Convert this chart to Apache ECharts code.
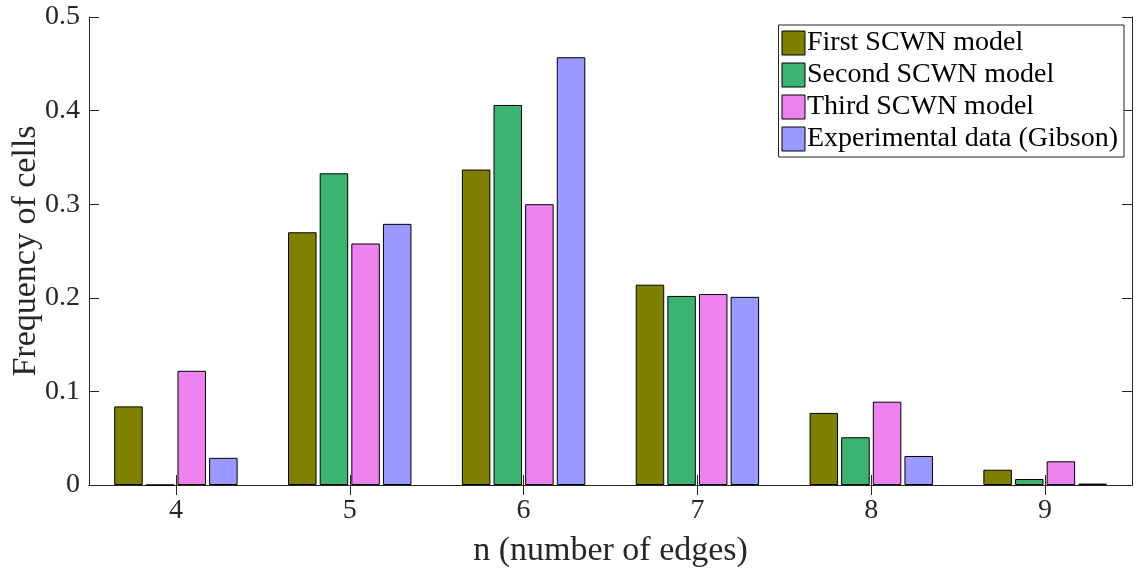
<!DOCTYPE html>
<html>
<head>
<meta charset="utf-8">
<script src="https://cdn.jsdelivr.net/npm/echarts@6/dist/echarts.min.js"></script>
<style>
html,body{margin:0;padding:0;background:#fff;}
#chart{width:1142px;height:570px;}
</style>
</head>
<body>
<div id="chart"></div>
<script>
const categories = ['4', '5', '6', '7', '8', '9'];
const seriesNames = ['First SCWN model', 'Second SCWN model', 'Third SCWN model', 'Experimental data (Gibson)'];
const firstModel = [0.084, 0.270, 0.337, 0.214, 0.077, 0.0163];
const secondModel = [0, 0.333, 0.406, 0.202, 0.051, 0.0064];
const thirdModel = [0.122, 0.258, 0.300, 0.204, 0.089, 0.0253];
const experimental = [0.029, 0.279, 0.457, 0.201, 0.031, 0.0015];
const yTicks = [0, 0.1, 0.2, 0.3, 0.4, 0.5];

const colors = ['#808000', '#3CB371', '#EE82EE', '#9999FF'];
const font = "'Liberation Serif', serif";
const axisColor = '#262626';

const chart = echarts.init(document.getElementById('chart'));
const values = [firstModel, secondModel, thirdModel, experimental];

const option = {
  animation: false,
  backgroundColor: '#ffffff',
  textStyle: { fontFamily: font },
  grid: { left: 89, right: 10, top: 17, bottom: 85, containLabel: false, outerBoundsMode: 'none' },
  legend: {
    orient: 'vertical',
    right: 18,
    top: 25,
    icon: 'rect',
    itemWidth: 23,
    itemHeight: 24,
    itemGap: 4,
    padding: [4, 6, 4, 3],
    backgroundColor: '#ffffff',
    borderColor: axisColor,
    borderWidth: 1,
    borderRadius: 0,
    textStyle: { fontFamily: font, fontSize: 28, lineHeight: 28, color: '#000000', padding: [0, 0, 0, -3] },
    itemStyle: { borderColor: '#000000', borderWidth: 1 },
    data: seriesNames
  },
  xAxis: [
    {
      type: 'category',
      data: categories,
      position: 'bottom',
      boundaryGap: true,
      name: 'n (number of edges)',
      nameLocation: 'middle',
      nameGap: 49,
      nameMoveOverlap: false,
      nameTextStyle: { fontFamily: font, fontSize: 34, color: axisColor },
      axisLine: { show: true, lineStyle: { color: axisColor, width: 1 } },
      axisTick: { show: true, inside: true, alignWithLabel: true, length: 10, lineStyle: { color: axisColor } },
      axisLabel: { fontFamily: font, fontSize: 28, color: axisColor, margin: 12 },
      splitLine: { show: false }
    },
    {
      type: 'category',
      data: categories,
      position: 'top',
      boundaryGap: true,
      axisLine: { show: true, lineStyle: { color: axisColor, width: 1 } },
      axisTick: { show: true, inside: true, alignWithLabel: true, length: 10, lineStyle: { color: axisColor } },
      axisLabel: { show: false },
      splitLine: { show: false }
    }
  ],
  yAxis: [
    {
      type: 'value',
      min: yTicks[0],
      max: yTicks[yTicks.length - 1],
      interval: 0.1,
      position: 'left',
      name: 'Frequency of cells',
      nameLocation: 'middle',
      nameGap: 46,
      nameMoveOverlap: false,
      nameTextStyle: { fontFamily: font, fontSize: 34, color: axisColor },
      axisLine: { show: true, lineStyle: { color: axisColor, width: 1 } },
      axisTick: { show: true, inside: true, length: 10, lineStyle: { color: axisColor } },
      axisLabel: { fontFamily: font, fontSize: 28, color: axisColor, margin: 9 },
      splitLine: { show: false }
    },
    {
      type: 'value',
      min: yTicks[0],
      max: yTicks[yTicks.length - 1],
      interval: 0.1,
      position: 'right',
      axisLine: { show: true, lineStyle: { color: axisColor, width: 1 } },
      axisTick: { show: true, inside: true, length: 10, lineStyle: { color: axisColor } },
      axisLabel: { show: false },
      splitLine: { show: false }
    }
  ],
  series: seriesNames.map((name, i) => ({
    name: name,
    type: 'bar',
    xAxisIndex: 0,
    yAxisIndex: 0,
    data: values[i],
    barWidth: 28.5,
    barGap: '11%',
    itemStyle: { color: colors[i], borderColor: '#000000', borderWidth: 1 }
  }))
};
chart.setOption(option);
</script>
</body>
</html>
